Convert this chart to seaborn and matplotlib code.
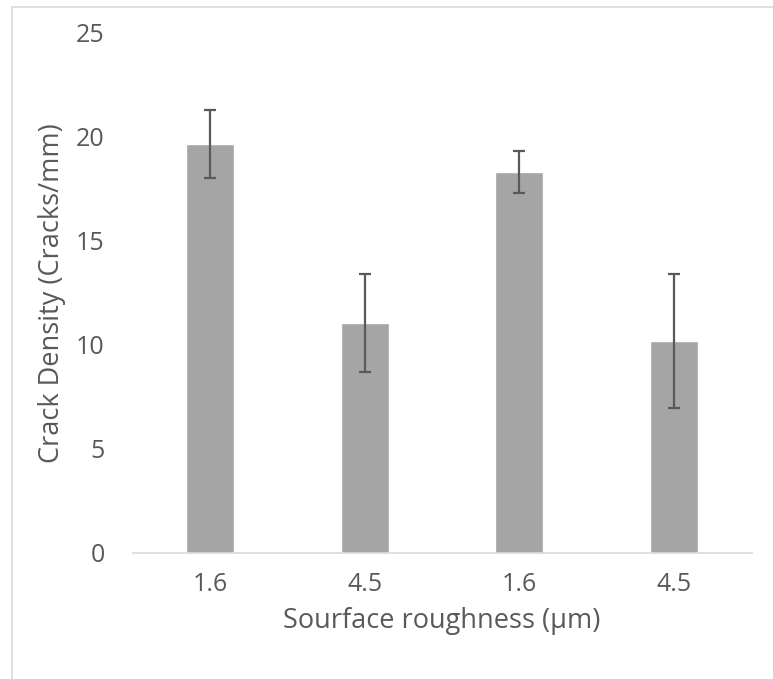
import matplotlib
matplotlib.use("Agg")
import matplotlib.pyplot as plt
import seaborn as sns
import pandas as pd
from matplotlib.lines import Line2D

# values
samples = ["s1", "s2", "s3", "s4"]
roughness_labels = ["1.6", "4.5", "1.6", "4.5"]
crack_density = [19.66, 11.07, 18.30, 10.19]
crack_err = [1.62, 2.35, 1.01, 3.21]

df = pd.DataFrame({"sample": samples, "density": crack_density})

sns.set_style("white")
plt.rcParams["font.family"] = ["Open Sans", "DejaVu Sans"]
txt = "#595959"

fig = plt.figure(figsize=(7.73, 6.79), dpi=100)
ax = fig.add_axes([132.5 / 773, 1 - 553 / 679, 619 / 773, 520 / 679])

sns.barplot(data=df, x="sample", y="density", color="#A5A5A5", saturation=1,
            width=0.31, errorbar=None, ax=ax)
ax.errorbar(range(len(samples)), crack_density, yerr=crack_err, fmt="none",
            ecolor=txt, elinewidth=1.6, capsize=4.5, capthick=1.6)

ax.set_ylim(0, 25)
ax.set_xlim(-0.5, 3.5)
ax.set_yticks([0, 5, 10, 15, 20, 25])
ax.set_xticks(range(len(samples)))
ax.set_xticklabels(roughness_labels)
ax.tick_params(axis="both", length=0, labelsize=18, colors=txt)
ax.tick_params(axis="y", pad=20)
ax.tick_params(axis="x", pad=14)
ax.set_xlabel("Sourface roughness (µm)", fontsize=19.5, color=txt, labelpad=7)
ax.set_ylabel("Crack Density (Cracks/mm)", fontsize=19.5, color=txt, labelpad=7)

for s in ["top", "right", "left"]:
    ax.spines[s].set_visible(False)
ax.spines["bottom"].set_color("#D9D9D9")
ax.spines["bottom"].set_linewidth(1.2)

# light chart-area border (only top and left edges are in the crop)
fig.add_artist(Line2D([12 / 773, 12 / 773], [0, 1 - 7 / 679], color="#D9D9D9",
                      lw=1.2, transform=fig.transFigure))
fig.add_artist(Line2D([12 / 773, 1], [1 - 7 / 679, 1 - 7 / 679], color="#D9D9D9",
                      lw=1.2, transform=fig.transFigure))

fig.savefig("out.png", dpi=100)
